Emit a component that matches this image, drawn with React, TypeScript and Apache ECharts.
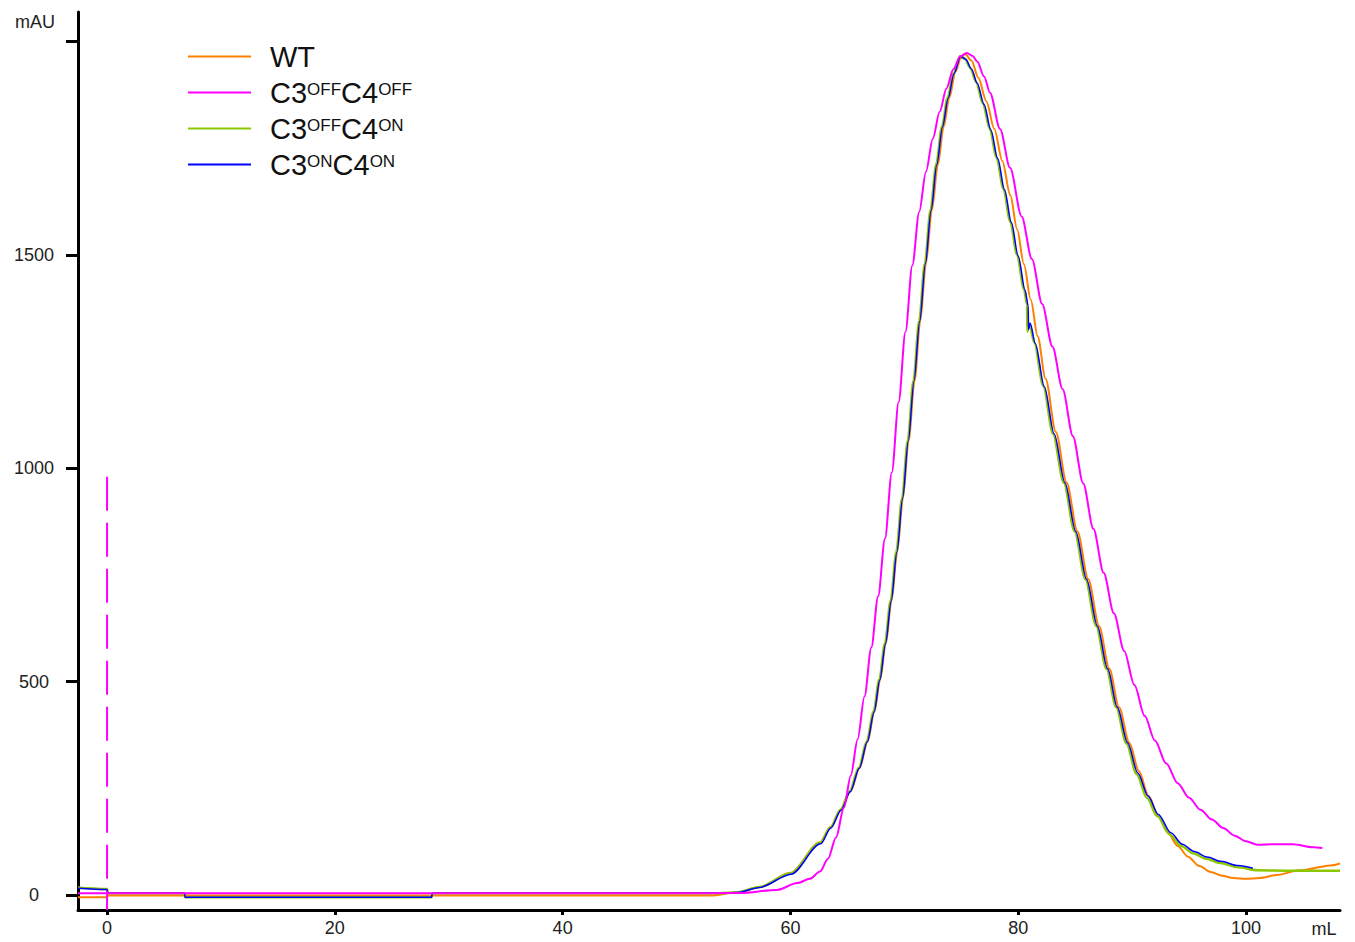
import React, { useEffect, useRef } from "react";
import * as echarts from "echarts";

type Pt = [number, number];

const SERIES_NAMES = ["WT", "C3OFFC4OFF", "C3OFFC4ON", "C3ONC4ON"];
const COLORS = ["#FF8000", "#FF00FF", "#8CC800", "#0000FF"];
const X_TICKS = [0, 20, 40, 60, 80, 100];
const X_LABELS = [0, 20, 40, 60, 80, 100];
const Y_TICKS = [0, 500, 1000, 1500, 2000];
const Y_LABELS = [0, 500, 1000, 1500];

// WT (orange)
const wt: Pt[] = [
  [-2.55, -5], [0, -5], [0.05, -1], [53.0, -1], [55.3, 6], [57.3, 19], [60.0, 52],
  [62.6, 124], [63.55, 160], [64.45, 201], [65.28, 243], [66.08, 298], [66.78, 360],
  [67.38, 430], [67.88, 505], [68.38, 590], [68.88, 690], [69.38, 805], [69.88, 930],
  [70.38, 1065], [70.9, 1205], [71.4, 1345], [71.9, 1480], [72.42, 1605], [72.95, 1712],
  [73.45, 1800], [73.95, 1868], [74.5, 1930], [74.95, 1960], [75.33, 1971], [75.9, 1955],
  [76.5, 1915], [77.2, 1860], [77.9, 1795], [78.6, 1720], [79.3, 1640], [79.9, 1560],
  [80.5, 1478], [81.1, 1395], [81.7, 1310], [82.4, 1210], [83.3, 1085], [84.25, 966],
  [85.2, 852], [86.15, 740], [87.1, 630], [88.0, 530], [88.85, 440], [89.75, 357],
  [90.6, 290], [91.45, 232], [92.3, 185], [93.1, 148], [94.0, 115], [94.9, 90],
  [95.9, 68], [96.9, 54], [97.9, 45], [98.9, 40], [100.0, 38], [101.2, 40], [102.7, 47],
  [104.7, 58], [107.6, 70], [108.25, 74],
];

// C3OFF C4OFF (magenta)
const c3offC4off: Pt[] = [
  [-2.55, 4], [53.0, 4.5], [55.58, 5], [58.82, 12], [60.6, 28], [61.7, 38], [62.6, 55],
  [63.3, 85], [64.0, 135], [64.7, 205], [65.3, 280], [65.9, 365], [66.5, 465], [67.1, 580],
  [67.7, 700], [68.3, 835], [68.9, 990], [69.5, 1155], [70.1, 1320], [70.7, 1475],
  [71.3, 1600], [71.9, 1695], [72.5, 1772], [73.1, 1835], [73.7, 1890], [74.3, 1935],
  [74.9, 1965], [75.5, 1973], [76.0, 1966], [76.4, 1953], [77.0, 1918], [77.52, 1880],
  [78.4, 1795], [79.28, 1704], [80.3, 1590], [81.2, 1490], [82.1, 1385], [83.0, 1285],
  [83.9, 1185], [84.8, 1075], [85.7, 965], [86.6, 858], [87.5, 755], [88.4, 660],
  [89.3, 572], [90.2, 492], [91.1, 420], [92.0, 362], [93.0, 308], [94.0, 262],
  [95.0, 228], [96.0, 200], [97.0, 177], [98.0, 157], [99.0, 139], [100.0, 126],
  [101.0, 118], [102.5, 119], [104.1, 119], [105.9, 112], [106.7, 110],
];

// C3OFF C4ON (green)
const c3offC4on: Pt[] = [
  [-2.55, 18], [-1.7, 16], [0, 14], [0.08, 4], [6.8, 4], [6.85, -5], [28.5, -5],
  [28.55, 4], [53.0, 4], [55.3, 6], [57.3, 19], [60.0, 51], [62.6, 122], [63.5, 158],
  [64.4, 200], [65.2, 243], [66.0, 298], [66.7, 360], [67.3, 430], [67.8, 505],
  [68.3, 590], [68.8, 690], [69.3, 805], [69.8, 930], [70.3, 1065], [70.8, 1205],
  [71.3, 1345], [71.8, 1480], [72.3, 1605], [72.8, 1712], [73.3, 1800], [73.8, 1868],
  [74.3, 1925], [74.9, 1966], [75.3, 1960], [75.8, 1938], [76.3, 1905], [76.9, 1855],
  [77.5, 1795], [78.1, 1728], [78.7, 1655], [79.3, 1578], [79.9, 1500], [80.5, 1420],
  [80.78, 1383], [80.8, 1320], [80.98, 1340], [81.4, 1295], [82.2, 1193], [83.05, 1081],
  [84.0, 966], [84.95, 852], [85.9, 740], [86.85, 630], [87.75, 530], [88.6, 440],
  [89.5, 355], [90.4, 283], [91.3, 228], [92.2, 185], [93.3, 142], [94.3, 115],
  [95.35, 98], [96.5, 85], [97.72, 75], [99.3, 65], [100.97, 58], [104.0, 57], [108.25, 57],
];

// C3ON C4ON (blue)
const c3onC4on: Pt[] = [
  [-2.55, 16], [0, 13], [0.08, 4], [6.8, 4], [6.85, -5], [28.5, -5], [28.55, 4],
  [53.0, 4], [55.3, 6], [57.3, 18], [60.05, 49], [62.65, 120], [63.55, 157], [64.45, 199],
  [65.25, 242], [66.05, 297], [66.75, 359], [67.35, 429], [67.85, 504], [68.35, 589],
  [68.85, 689], [69.35, 804], [69.85, 929], [70.35, 1064], [70.85, 1204], [71.35, 1344],
  [71.85, 1479], [72.35, 1604], [72.85, 1711], [73.35, 1799], [73.85, 1867], [74.35, 1924],
  [74.95, 1965], [75.4, 1958], [75.9, 1935], [76.4, 1902], [77.0, 1852], [77.6, 1792],
  [78.2, 1725], [78.8, 1652], [79.4, 1575], [80.0, 1497], [80.6, 1417], [80.88, 1380],
  [80.9, 1325], [81.05, 1340], [81.5, 1292], [82.3, 1190], [83.15, 1081], [84.1, 966],
  [85.05, 852], [86.0, 740], [86.95, 630], [87.85, 530], [88.7, 440], [89.6, 357],
  [90.5, 286], [91.4, 232], [92.3, 189], [93.4, 146], [94.4, 119], [95.45, 102],
  [96.6, 89], [97.8, 79], [99.3, 69], [100.6, 63],
];

// injection mark (dashed magenta)
const injectionMark: Pt[] = [[0, 980], [0, -35]];

const SERIES_DATA = [wt, c3offC4off, c3offC4on, c3onC4on];
const WIDTHS = [2, 2, 2.5, 1.5];
const ZS = [2, 4, 2, 3];

const LEGEND_RICH: Record<string, string> = {
  WT: "{m|WT}",
  C3OFFC4OFF: "{m|C3}{s|OFF}{m|C4}{s|OFF}",
  C3OFFC4ON: "{m|C3}{s|OFF}{m|C4}{s|ON}",
  C3ONC4ON: "{m|C3}{s|ON}{m|C4}{s|ON}",
};

const FONT = "'Liberation Sans', Arial, Helvetica, sans-serif";

export default function App() {
  const ref = useRef<HTMLDivElement>(null);
  useEffect(() => {
    if (!ref.current) return;
    const chart = echarts.init(ref.current, undefined, { renderer: "svg" });
    const series: any[] = SERIES_NAMES.map((name, i) => ({
      name,
      type: "line",
      data: SERIES_DATA[i],
      symbol: "none",
      showSymbol: false,
      smooth: 0.3,
      smoothMonotone: "x",
      z: ZS[i],
      lineStyle: { color: COLORS[i], width: WIDTHS[i] },
      itemStyle: { color: COLORS[i] },
      silent: true,
    }));
    series.push({
      name: "injection",
      type: "line",
      data: injectionMark,
      symbol: "none",
      showSymbol: false,
      z: 4,
      lineStyle: { color: "#FF00FF", width: 2, type: [34, 12] },
      silent: true,
    });
    chart.setOption({
      animation: false,
      backgroundColor: "#ffffff",
      grid: { left: 78, right: 15, top: 12, bottom: 32, containLabel: false },
      legend: {
        orient: "vertical",
        left: 188,
        top: 42,
        padding: 0,
        itemGap: 7,
        itemWidth: 63,
        itemHeight: 2,
        icon: "rect",
        selectedMode: false,
        data: SERIES_NAMES,
        formatter: (n: string) => LEGEND_RICH[n] || n,
        textStyle: {
          padding: [0, 0, 0, 14],
          fontFamily: FONT,
          rich: {
            m: { fontSize: 29, lineHeight: 36, color: "#111", fontFamily: FONT },
            s: { fontSize: 17, verticalAlign: "top", padding: [6, 0, 0, 0], color: "#111", fontFamily: FONT },
          },
        },
      },
      xAxis: {
        type: "value",
        min: -2.55,
        max: 108.25,
        axisLine: { show: true, onZero: false, lineStyle: { color: "#000", width: 3 } },
        axisTick: { show: true, customValues: X_TICKS, length: 5, lineStyle: { color: "#000", width: 3 } },
        axisLabel: { customValues: X_LABELS, margin: 9, fontSize: 18, color: "#222", fontFamily: FONT, formatter: (v: number) => String(v) },
        splitLine: { show: false },
      },
      yAxis: {
        type: "value",
        min: -35,
        max: 2069,
        axisLine: { show: true, onZero: false, lineStyle: { color: "#000", width: 3 } },
        axisTick: { show: true, customValues: Y_TICKS, length: 12, lineStyle: { color: "#000", width: 3 } },
        axisLabel: { customValues: Y_LABELS, margin: 44, align: "center", fontSize: 18, color: "#222", fontFamily: FONT, formatter: (v: number) => String(v) },
        splitLine: { show: false },
      },
      graphic: [
        { type: "text", x: 35, y: 22, style: { text: "mAU", fontSize: 18, fontFamily: FONT, fill: "#222", textAlign: "center", textVerticalAlign: "middle" } },
        { type: "text", x: 1324, y: 929, style: { text: "mL", fontSize: 18, fontFamily: FONT, fill: "#222", textAlign: "center", textVerticalAlign: "middle" } },
      ],
      series,
    });
    return () => chart.dispose();
  }, []);
  return (
    <div
      ref={ref}
      style={{ position: "absolute", left: 0, top: 0, width: 1355, height: 942, background: "#fff" }}
    />
  );
}
